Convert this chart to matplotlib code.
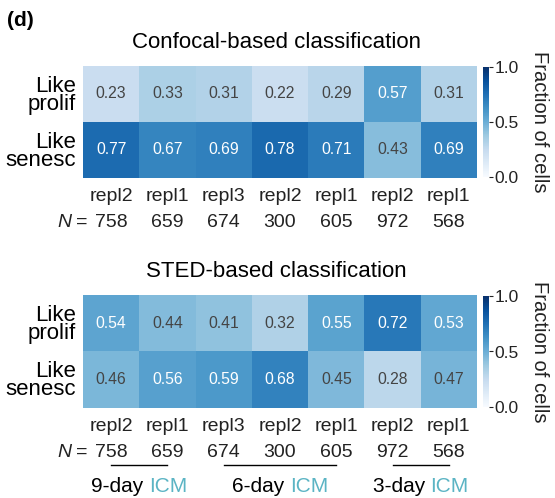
import numpy as np
import matplotlib.pyplot as plt
from matplotlib.transforms import blended_transform_factory

plt.rcParams['font.family'] = ['Liberation Sans', 'DejaVu Sans']

# data
row_labels = ['Like\nprolif', 'Like\nsenesc']
repl_labels = ['repl2', 'repl1', 'repl3', 'repl2', 'repl1', 'repl2', 'repl1']
n_cells = ['758', '659', '674', '300', '605', '972', '568']
confocal = [[0.23, 0.33, 0.31, 0.22, 0.29, 0.57, 0.31],
            [0.77, 0.67, 0.69, 0.78, 0.71, 0.43, 0.69]]
sted = [[0.54, 0.44, 0.41, 0.32, 0.55, 0.72, 0.53],
        [0.46, 0.56, 0.59, 0.68, 0.45, 0.28, 0.47]]
groups = ['9-day', '6-day', '3-day']
group_cols = [(0, 1), (2, 4), (5, 6)]
teal = '#5bb4c4'
txt_dark = '#222222'


def draw_heat(ax, cax, data, title, n_y):
    data = np.array(data)
    im = ax.imshow(data, cmap='Blues', vmin=0, vmax=1, aspect='auto')
    for i in range(data.shape[0]):
        for j in range(data.shape[1]):
            v = data[i, j]
            col = 'white' if v >= 0.5 else '#444444'
            ax.text(j, i, '%.2f' % v, ha='center', va='center', color=col, fontsize=11.3)
    ax.set_xticks(range(len(repl_labels)))
    ax.set_xticklabels(repl_labels, fontsize=14, color=txt_dark)
    ax.set_yticks(range(len(row_labels)))
    ax.set_yticklabels(row_labels, fontsize=16, linespacing=0.82)
    ax.tick_params(axis='x', length=0, pad=7)
    ax.tick_params(axis='y', length=0, pad=5)
    for s in ax.spines.values():
        s.set_visible(False)
    ax.text(0.49, 1.16, title, transform=ax.transAxes, ha='center', va='baseline', fontsize=16)
    # N row
    tr = blended_transform_factory(ax.transData, ax.transAxes)
    for j, n in enumerate(n_cells):
        ax.text(j, n_y, n, transform=tr, ha='center', va='baseline', fontsize=14, color=txt_dark)
    ax.text(-0.518, n_y, '=', transform=tr, ha='center', va='baseline', fontsize=14, color=txt_dark)
    ax.text(-0.695, n_y, 'N', transform=tr, ha='right', va='baseline', fontsize=14,
            style='italic', color=txt_dark)
    cb = plt.colorbar(im, cax=cax)
    cb.outline.set_visible(False)
    cb.set_ticks([0, 0.5, 1.0])
    cb.set_ticklabels(['0.0', '0.5', '1.0'])
    cb.ax.tick_params(labelsize=12.5, length=3, width=0.8, pad=1, colors=txt_dark)
    cb.set_label('Fraction of cells', rotation=270, fontsize=14.5, labelpad=22, color=txt_dark)
    return ax


fig = plt.figure(figsize=(5.55, 4.98), dpi=100)
W, H = 555.0, 498.0
ax1 = fig.add_axes([83 / W, 1 - 178 / H, 394 / W, 112 / H])
cax1 = fig.add_axes([483 / W, 1 - 177 / H, 6 / W, 110 / H])
ax2 = fig.add_axes([83 / W, 1 - 408 / H, 394 / W, 113 / H])
cax2 = fig.add_axes([483 / W, 1 - 407 / H, 6 / W, 111 / H])

draw_heat(ax1, cax1, confocal, 'Confocal-based classification', -0.437)
draw_heat(ax2, cax2, sted, 'STED-based classification', -0.434)

# group brackets under bottom panel
fig.canvas.draw()
renderer = fig.canvas.get_renderer()
tr = blended_transform_factory(ax2.transData, ax2.transAxes)
for g, (a, b) in zip(groups, group_cols):
    ax2.plot([a, b], [-0.504, -0.504], transform=tr, color='black', lw=1, clip_on=False)
    xc = (a + b) / 2
    t1 = ax2.text(xc, -0.743, g + ' ', transform=tr, ha='right', va='baseline', fontsize=15)
    t2 = ax2.text(xc, -0.743, 'ICM', transform=tr, ha='left', va='baseline', fontsize=15, color=teal)
    w1 = t1.get_window_extent(renderer).width
    w2 = t2.get_window_extent(renderer).width
    # shift both parts so the whole label is centred under the line
    shift_px = (w1 - w2) / 2
    x0_px = ax2.transData.transform((xc, 0))[0]
    xn = ax2.transData.inverted().transform((x0_px + shift_px, 0))[0]
    t1.set_x(xn)
    t2.set_x(xn)

fig.text(7 / W, 1 - 20 / H, '(d)', fontsize=15, fontweight='bold', va='center')

fig.savefig('out.png', dpi=100)
